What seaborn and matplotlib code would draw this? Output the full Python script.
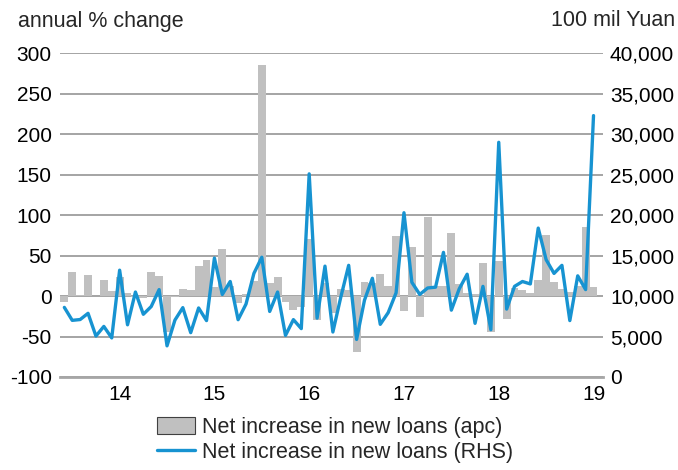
import numpy as np
import pandas as pd
import matplotlib
matplotlib.use('Agg')
import matplotlib.pyplot as plt
from matplotlib.patches import Patch
from matplotlib.lines import Line2D
import seaborn as sns

# --- DADOS (jun/2013 a jan/2019, mensal) ---
meses = pd.date_range('2013-06-01', '2019-01-01', freq='MS')

# variação anual dos novos empréstimos (%), eixo esquerdo
apc = [
    -7, 30, 1, 26, 0, 20, 6,
    23, 4, -1, -2, 30, 25, -45, -1, 9, 8, 37, 44,
    11, 58, 13, -9, 3, 19, 285, 16, 23, -7, -17, -14,
    71, -29, 16, -21, 9, 8, -69, 17, 16, 27, 12, 74,
    -19, 61, -26, 98, 12, 12, 78, 15, 4, 2, 41, -44,
    43, -28, 10, 7, 4, 20, 76, 17, 9, 5, 12, 85,
    11,
]

# novos empréstimos (100 milhões de yuan), eixo direito
novos_emprestimos = [
    8600, 7000, 7100, 7870, 5060, 6250, 4830,
    13200, 6450, 10500, 7750, 8710, 10800, 3850, 7030, 8570, 5480, 8530, 6970,
    14700, 10200, 11800, 7080, 9010, 12800, 14800, 8100, 10500, 5140, 7090, 5980,
    25100, 7270, 13700, 5560, 9860, 13800, 4640, 9490, 12200, 6510, 7950, 10400,
    20300, 11700, 10200, 11000, 11100, 15400, 8260, 10900, 12700, 6630, 11200, 5840,
    29000, 8390, 11200, 11800, 11500, 18400, 14500, 12800, 13800, 6970, 12500, 10800,
    32300,
]

rotulos_anos = ['14', '15', '16', '17', '18', '19']
# --------------------

COR_BARRA = '#c0c0c0'
COR_LINHA = '#1793d1'
COR_GRADE = '#8c8c8c'
FONTE = 15

sns.set_style('white')
plt.rcParams['font.family'] = ['Liberation Sans', 'DejaVu Sans']
plt.rcParams['font.size'] = FONTE
plt.rcParams['axes.unicode_minus'] = False

df = pd.DataFrame({'pos': np.arange(len(meses)), 'apc': apc, 'loans': novos_emprestimos})

fig = plt.figure(figsize=(6.78, 4.70), dpi=100)
ax = fig.add_axes([60 / 678, 1 - 377 / 470, (603 - 60) / 678, (377 - 53.3) / 470])

# barras (eixo esquerdo)
sns.barplot(data=df, x='pos', y='apc', ax=ax, color=COR_BARRA, width=1.0,
            saturation=1, native_scale=True, edgecolor='none', linewidth=0, zorder=2)
ax.set_ylim(-100, 300)
ax.set_yticks(np.arange(-100, 301, 50))
ax.yaxis.grid(True, color=COR_GRADE, linewidth=1.1)
ax.set_axisbelow(True)

# linha (eixo direito)
ax2 = ax.twinx()
sns.lineplot(data=df, x='pos', y='loans', ax=ax2, color=COR_LINHA, linewidth=2.4)
ax2.set_ylim(0, 40000)
ax2.set_yticks(np.arange(0, 40001, 5000))
ax2.set_yticklabels([f'{v:,}' for v in range(0, 40001, 5000)])

# rótulos dos anos em janeiro
pos_jan = [i for i, m in enumerate(meses) if m.month == 1]
ax.set_xticks(pos_jan)
ax.set_xticklabels(rotulos_anos)
ax.set_xlim(-0.55, 68.2)

for a in (ax, ax2):
    a.set_xlabel('')
    a.set_ylabel('')
    for lado in ('top', 'left', 'right', 'bottom'):
        a.spines[lado].set_visible(False)
    a.tick_params(length=0, labelsize=FONTE, colors='black')
ax.spines['bottom'].set_visible(True)
ax.spines['bottom'].set_color('#a6a6a6')
ax.spines['bottom'].set_linewidth(2)
ax.tick_params(axis='y', pad=6)
ax.tick_params(axis='x', pad=6)
ax2.tick_params(axis='y', pad=5)

fig.text(18 / 678, 1 - 21 / 470, 'annual % change', fontsize=15.5, va='center', ha='left')
fig.text(675 / 678, 1 - 21 / 470, '100 mil Yuan', fontsize=15.5, va='center', ha='right')

alcas = [Patch(facecolor=COR_BARRA, edgecolor='#404040', linewidth=0.8),
         Line2D([0], [0], color=COR_LINHA, linewidth=2.4)]
fig.legend(alcas, ['Net increase in new loans (apc)', 'Net increase in new loans (RHS)'],
           loc='upper left', bbox_to_anchor=(157 / 678, 1 - 417 / 470),
           frameon=False, borderpad=0, borderaxespad=0, handlelength=1.75,
           handleheight=0.85, handletextpad=0.35, labelspacing=0.2, fontsize=15.5)

plt.savefig('out.png', dpi=100)
